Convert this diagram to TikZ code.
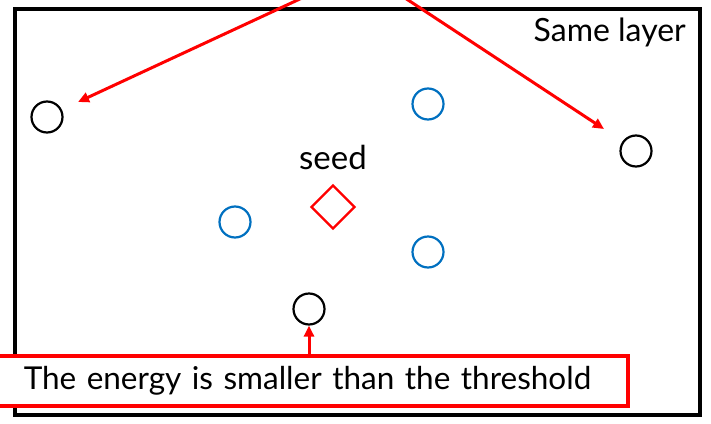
\documentclass[tikz,border=0pt]{standalone}
\usepackage{fontspec}
\setmainfont{Lato}
\usetikzlibrary{positioning, shapes.geometric, arrows.meta}
\definecolor{hitblue}{RGB}{0,112,192}

\begin{document}
\begin{tikzpicture}[x=1pt, y=-1pt,
    hit/.style={draw, circle, line width=2.2pt, minimum size=31pt, inner sep=0pt},
    redarrow/.style={-{Triangle[length=11pt, width=10pt]}, red, line width=3pt}]
      \useasboundingbox (0, 0) rectangle (711, 423);
      \draw[line width=3.5pt] (15, 9) rectangle (700, 415);

      \node[hit, black] (h1) at (47, 117) {};
      \node[hit, black] (h2) at (636, 151) {};
      \node[hit, black] (h3) at (309, 309) {};
      \node[hit, hitblue] (b1) at (428, 104) {};
      \node[hit, hitblue] (b2) at (235, 222) {};
      \node[hit, hitblue] (b3) at (428, 252) {};

      \node[draw=red, diamond, line width=2.2pt, minimum size=44pt, inner sep=0pt] (seed) at (333, 207) {};
      \node[font=\fontsize{33}{36}\selectfont, anchor=center] (seedlabel) at (333, 157) {seed};
      \node[font=\fontsize{32}{36}\selectfont, anchor=north east, inner sep=0pt] (layer) at (686, 18) {Same layer};

      \node[draw=red, line width=3.5pt, fill=white, anchor=west, minimum height=50pt,
            font=\fontsize{31.5}{34}\selectfont, inner xsep=34pt, text width=570pt, align=left] (cut) at (-12, 381)
            {\mbox{The energy is smaller than the threshold}};

      \coordinate (src1) at (302, -2);
      \coordinate (src2) at (405, -2);
      \draw[redarrow] (src1) -- (78, 102);
      \draw[redarrow] (src2) -- (604, 129);
      \draw[redarrow] (cut.north -| h3) -- (h3);
    \end{tikzpicture}
\end{document}
